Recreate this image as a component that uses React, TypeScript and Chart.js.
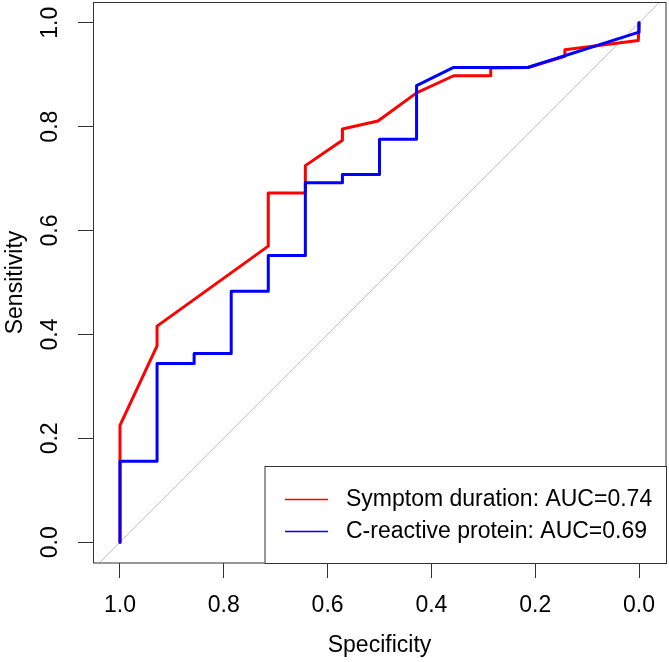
import React, { useEffect, useRef } from 'react';
import { Chart, registerables } from 'chart.js';

Chart.register(...registerables);

// ---- Data ----
const xTickValues = [0, 0.2, 0.4, 0.6, 0.8, 1.0];
const yTickValues = [0, 0.2, 0.4, 0.6, 0.8, 1.0];

const seriesLabels = ['Symptom duration: AUC=0.74', 'C-reactive protein: AUC=0.69'];
const xTitle = 'Specificity';
const yTitle = 'Sensitivity';

const symptomSpecificity = [1, 1, 13 / 14, 13 / 14, 10 / 14, 10 / 14, 9 / 14, 9 / 14, 8 / 14, 8 / 14, 0.503, 6 / 14, 5 / 14, 4 / 14, 4 / 14, 3 / 14, 2 / 14, 2 / 14, 0.0013, 0];
const symptomSensitivity = [0, 0.225, 0.378, 0.416, 0.57, 0.6725, 0.6725, 0.725, 0.774, 0.7955, 0.811, 0.865, 0.898, 0.898, 0.913, 0.914, 0.9355, 0.948, 0.966, 1.0];

const crpSpecificity = [1, 1, 13 / 14, 13 / 14, 12 / 14, 12 / 14, 11 / 14, 11 / 14, 10 / 14, 10 / 14, 9 / 14, 9 / 14, 8 / 14, 8 / 14, 7 / 14, 7 / 14, 6 / 14, 6 / 14, 5 / 14, 3 / 14, 0, 0];
const crpSensitivity = [0, 0.156, 0.156, 0.344, 0.344, 0.3635, 0.3635, 0.483, 0.483, 0.552, 0.552, 0.692, 0.692, 0.7077, 0.7077, 0.776, 0.776, 0.879, 0.914, 0.914, 0.982, 1.0];

const diagonalSpecificity = [1.04, -0.04];
const diagonalSensitivity = [-0.04, 1.04];

const seriesColors = ['#FF0000', '#0000FF'];

const FONT = '"Liberation Sans", Arial, Helvetica, sans-serif';
const FONT_SIZE = 23;

const toPoints = (xs: number[], ys: number[]) => xs.map((x, i) => ({ x, y: ys[i] }));

const decorPlugin = {
  id: 'rocDecor',
  afterDraw(chart: any) {
    const { ctx, chartArea } = chart;
    const yScale = chart.scales.y;
    ctx.save();
    // y tick labels (rotated like R)
    ctx.font = `${FONT_SIZE}px ${FONT}`;
    ctx.fillStyle = '#000';
    ctx.textAlign = 'center';
    ctx.textBaseline = 'middle';
    yScale.ticks.forEach((t: any) => {
      const p = yScale.getPixelForValue(t.value);
      ctx.save();
      ctx.translate(chartArea.left - 42.5, p);
      ctx.rotate(-Math.PI / 2);
      ctx.fillText(Number(t.value).toFixed(1), 0, 0);
      ctx.restore();
    });

    // plot box
    ctx.strokeStyle = '#333';
    ctx.lineWidth = 1;
    ctx.strokeRect(chartArea.left + 0.5, chartArea.top + 0.5, chartArea.right - chartArea.left - 0.5, chartArea.bottom - chartArea.top - 0.5);

    // legend
    const lw = 401.5;
    const lh = 97;
    const lx = chartArea.right - lw;
    const ly = chartArea.bottom - lh;
    ctx.fillStyle = '#fff';
    ctx.fillRect(lx, ly, lw, lh);
    ctx.strokeStyle = '#333';
    ctx.strokeRect(lx + 0.5, ly + 0.5, lw, lh);
    const rows = [33, 65];
    for (let i = 0; i < rows.length; i++) {
      const dy = rows[i];
      ctx.beginPath();
      ctx.strokeStyle = seriesColors[i];
      ctx.lineWidth = 1.4;
      ctx.moveTo(lx + 20.5, ly + dy + 0.5);
      ctx.lineTo(lx + 63.5, ly + dy + 0.5);
      ctx.stroke();
      ctx.fillStyle = '#000';
      ctx.textAlign = 'left';
      ctx.textBaseline = 'middle';
      ctx.fillText(seriesLabels[i], lx + 81.5, ly + dy + 1);
    }
    ctx.restore();
  },
};

export default function App() {
  const canvasRef = useRef<HTMLCanvasElement | null>(null);

  useEffect(() => {
    if (!canvasRef.current) return;
    const chart = new Chart(canvasRef.current, {
      type: 'scatter',
      data: {
        datasets: [
          {
            label: seriesLabels[1],
            data: toPoints(crpSpecificity, crpSensitivity),
            showLine: true,
            borderColor: seriesColors[1],
            backgroundColor: seriesColors[1],
            borderWidth: 3,
            pointRadius: 0,
            borderJoinStyle: 'round',
            borderCapStyle: 'round',
            tension: 0,
          },
          {
            label: seriesLabels[0],
            data: toPoints(symptomSpecificity, symptomSensitivity),
            showLine: true,
            borderColor: seriesColors[0],
            backgroundColor: seriesColors[0],
            borderWidth: 3,
            pointRadius: 0,
            borderJoinStyle: 'round',
            borderCapStyle: 'round',
            tension: 0,
          },
          {
            label: 'identity',
            data: toPoints(diagonalSpecificity, diagonalSensitivity),
            showLine: true,
            borderColor: '#BEBEBE',
            borderWidth: 1,
            pointRadius: 0,
          },
        ],
      },
      options: {
        responsive: false,
        animation: false,
        devicePixelRatio: 1,
        layout: { padding: { left: 0, right: 3, top: 2, bottom: 0 } },
        plugins: {
          legend: { display: false },
          tooltip: { enabled: false },
        },
        scales: {
          x: {
            type: 'linear',
            reverse: true,
            min: -0.052,
            max: 1.052,
            afterBuildTicks: (scale: any) => {
              scale.ticks = xTickValues.map((v) => ({ value: v }));
            },
            afterFit: (scale: any) => {
              scale.height = 99;
            },
            grid: {
              drawOnChartArea: false,
              drawTicks: true,
              tickLength: 15,
              tickColor: '#333',
              tickWidth: 1,
            },
            border: { display: false },
            ticks: {
              color: '#000',
              font: { family: FONT, size: FONT_SIZE },
              padding: 14,
              maxRotation: 0,
              minRotation: 0,
              callback: (v: any) => Number(v).toFixed(1),
            },
            title: {
              display: true,
              text: xTitle,
              color: '#000',
              font: { family: FONT, size: FONT_SIZE },
              padding: { top: 0, bottom: 3 },
            },
          },
          y: {
            type: 'linear',
            min: -0.04,
            max: 1.04,
            afterBuildTicks: (scale: any) => {
              scale.ticks = yTickValues.map((v) => ({ value: v }));
            },
            afterFit: (scale: any) => {
              scale.width = 93;
            },
            grid: {
              drawOnChartArea: false,
              drawTicks: true,
              tickLength: 15,
              tickColor: '#333',
              tickWidth: 1,
            },
            border: { display: false },
            ticks: { display: false },
            title: {
              display: true,
              text: yTitle,
              color: '#000',
              font: { family: FONT, size: FONT_SIZE },
              padding: { top: 1.5, bottom: 0 },
            },
          },
        },
      },
      plugins: [decorPlugin],
    });
    return () => chart.destroy();
  }, []);

  return (
    <div style={{ position: 'fixed', left: 0, top: 0, width: 669, height: 662, background: '#fff' }}>
      <canvas ref={canvasRef} width={669} height={662} />
    </div>
  );
}
